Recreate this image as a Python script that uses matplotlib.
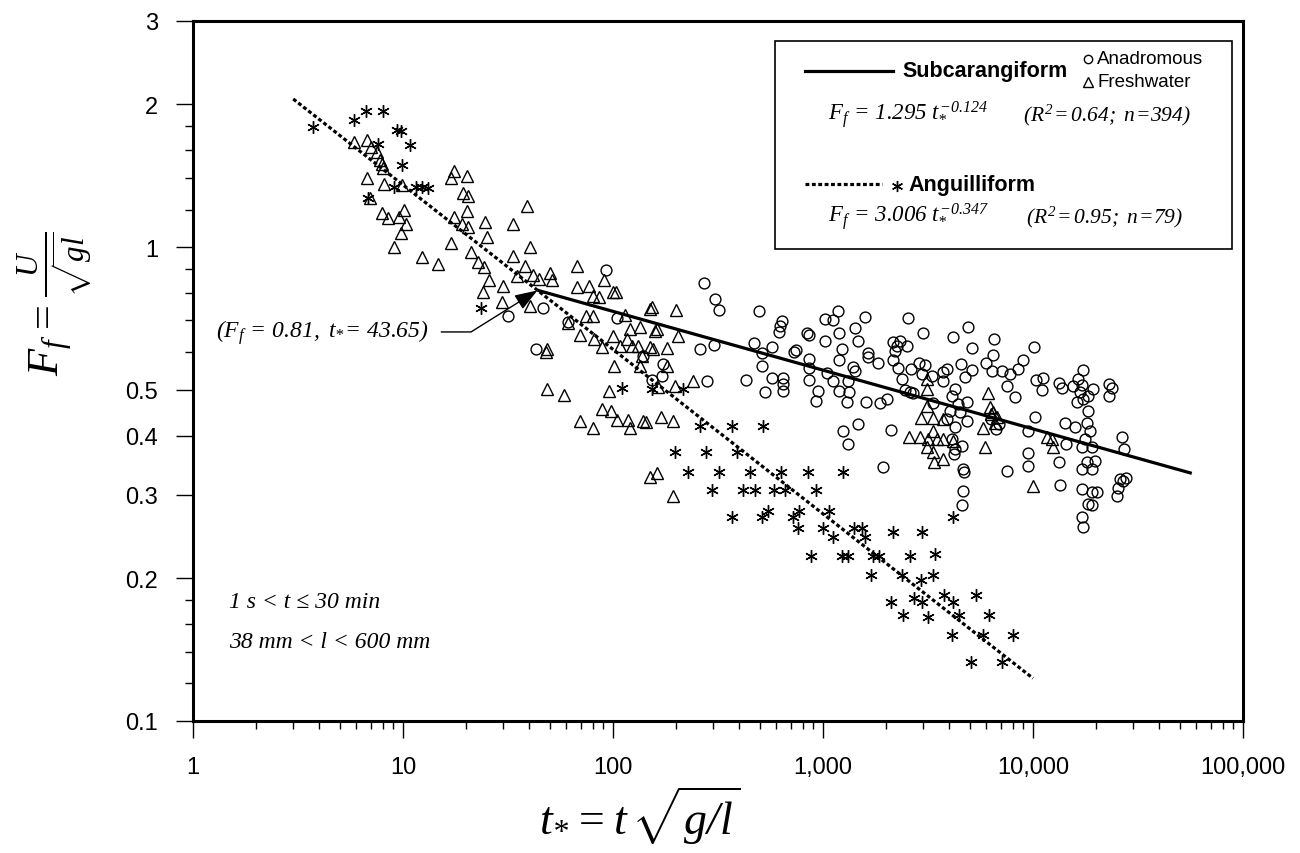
import numpy as np
import matplotlib.pyplot as plt
from matplotlib.patches import Rectangle
from matplotlib.ticker import FixedLocator, NullFormatter, LogLocator

plt.rcParams['font.family'] = ['Liberation Sans', 'DejaVu Sans']
plt.rcParams['mathtext.fontset'] = 'custom'
plt.rcParams['mathtext.rm'] = 'Liberation Serif:italic'
plt.rcParams['mathtext.it'] = 'Liberation Serif:italic'
plt.rcParams['mathtext.bf'] = 'Liberation Serif:bold'

# Anguilliform (asterisks)
angu_t = [3.73, 5.84, 6.67, 8.03, 9.37, 9.78, 10.8, 7.60, 9.9, 9.06, 11.5, 12.3, 13.1, 6.81,
          23.5, 110, 153, 215, 259, 197, 227,
          370, 518, 278, 390, 319, 449, 630, 848, 1250,
          296, 416, 475, 584, 661, 927,
          547, 768, 1070, 370, 512, 720,
          760, 1000, 1400, 1530, 1120, 1580, 2150, 2960,
          876, 1230, 1310, 1730, 1850, 2600, 3410,
          1690, 2380, 3340, 2930,
          3770, 5350, 2110, 2710, 2960, 4160,
          2400, 3160, 4440, 6170,
          4110, 5780, 8030,
          5070, 7120, 4160]
angu_f = [1.79, 1.85, 1.94, 1.94, 1.77, 1.76, 1.64, 1.65, 1.49, 1.34, 1.34, 1.34, 1.33, 1.27,
          0.744, 0.504, 0.502, 0.502, 0.419, 0.370, 0.335,
          0.419, 0.419, 0.370, 0.370, 0.335, 0.335, 0.335, 0.335, 0.335,
          0.307, 0.307, 0.307, 0.307, 0.307, 0.307,
          0.277, 0.277, 0.277, 0.270, 0.270, 0.270,
          0.255, 0.255, 0.255, 0.255, 0.245, 0.245, 0.250, 0.250,
          0.223, 0.223, 0.223, 0.223, 0.223, 0.223, 0.225,
          0.203, 0.203, 0.203, 0.198,
          0.184, 0.184, 0.178, 0.182, 0.178, 0.178,
          0.167, 0.166, 0.167, 0.167,
          0.152, 0.152, 0.152,
          0.133, 0.133, 0.270]

# Freshwater subcarangiform (triangles)
fresh_t = [5.84, 6.74, 7.05, 7.52, 7.77, 7.94, 8.03, 6.74, 8.12, 9.9, 6.96, 7.94, 8.48, 9.57,
           10.1, 10.3, 9.78, 9.06, 17.5, 16.9, 20.2, 19.3, 20.4, 20.2, 17.5, 19.1, 20.4, 24.6,
           25.1, 33.4, 39.0, 16.9, 40.3,
           12.3, 14.7, 21.1, 22.7, 24.3, 33.4, 38.1, 34.9, 41.6, 44.4, 50.1, 51.2, 25.7, 24.0,
           29.9, 29.6, 40.3, 67.4, 67.4, 77.0, 80.3, 86.0, 90.6, 100, 103, 74.4, 80.3, 61.0,
           69.6, 81.2, 100, 114, 121, 134, 150, 153, 162, 158, 200, 204, 181, 88.7, 108, 117,
           123, 131, 150, 155, 137, 101, 134, 181, 48.5, 48.0, 48.5, 58.4, 95.7, 164, 197, 240,
           88.7, 97.8, 69.6, 80.3, 104, 118, 121, 139, 144, 169, 193, 162, 150, 193,
           3110, 3110, 3110, 2930, 3340, 3730, 2570, 2900, 3160, 3340, 3490, 3730, 3110, 3340,
           3380, 3730, 4160, 5900, 6100, 6230, 5780, 6450, 6740, 6600, 6310, 10000, 11600,
           12300, 12500]
fresh_f = [1.67, 1.68, 1.63, 1.59, 1.53, 1.50, 1.47, 1.40, 1.36, 1.35, 1.27, 1.18, 1.15, 1.16,
           1.20, 1.12, 1.07, 1.00, 1.45, 1.40, 1.41, 1.30, 1.28, 1.19, 1.16, 1.12, 1.10, 1.13,
           1.05, 1.12, 1.22, 1.02, 1.00,
           0.953, 0.921, 0.976, 0.930, 0.907, 0.957, 0.912, 0.869, 0.873, 0.856, 0.881, 0.852,
           0.852, 0.804, 0.827, 0.766, 0.751, 0.912, 0.823, 0.827, 0.788, 0.785, 0.852, 0.804,
           0.804, 0.715, 0.715, 0.691, 0.652, 0.640, 0.649, 0.719, 0.671, 0.678, 0.740, 0.747,
           0.671, 0.665, 0.736, 0.649, 0.612, 0.615, 0.618, 0.640, 0.618, 0.618, 0.615, 0.609,
           0.589, 0.561, 0.561, 0.561, 0.609, 0.600, 0.502, 0.487, 0.496, 0.507, 0.509, 0.522,
           0.455, 0.451, 0.430, 0.415, 0.432, 0.432, 0.415, 0.430, 0.428, 0.438, 0.430, 0.333,
           0.327, 0.298,
           0.527, 0.502, 0.462, 0.436, 0.436, 0.434, 0.398, 0.398, 0.394, 0.409, 0.394, 0.394,
           0.379, 0.370, 0.352, 0.357, 0.389, 0.379, 0.492, 0.460, 0.415, 0.449, 0.438, 0.425,
           0.444, 0.313, 0.398, 0.394, 0.379]

# Anadromous subcarangiform (circles)
anad_t = [92.7, 46.4, 31.6, 61.0, 104, 43.0, 139, 173, 171, 153,
          271, 306, 319, 495, 259, 302, 280, 430, 469, 512, 512, 571, 571, 530, 638, 623, 617,
          645, 645, 645, 728, 745, 838, 860, 860, 860, 860, 947, 927, 1020, 1020, 1120, 1180,
          1190, 1230, 1190, 1040, 1120, 1190, 1330, 1310, 1300, 1420, 1470, 1580, 1640, 1640,
          1830, 1390, 1420, 1600, 1870, 2020, 1470, 1250, 1310, 2110, 1930, 2540, 2990, 2150,
          2330, 2250, 2510, 2200, 2150, 2270, 2380, 2460, 2600, 2680, 2620, 2870, 3060, 2960,
          3300, 3340, 3730, 3900, 3730, 4160, 4900, 5120, 4540, 5120, 4740, 4250, 4110, 4390,
          4850, 5960, 6380, 6520, 6450, 4040, 4490, 4850, 3900, 4250, 4110, 4590, 4250, 4200,
          4640, 4690, 4640, 4590, 6340, 6890, 6670,
          10100, 8960, 8480, 7770, 7520, 8200, 7130, 10300, 11200, 11000, 13300, 13800, 10200,
          9470, 9470, 9470, 7520, 14200, 14400, 15800, 13300, 13400, 15500, 17300, 16400,
          17100, 16700, 17300, 18300, 19300, 16200, 18300, 18100, 18700, 17700, 17100, 19100,
          18100, 19800, 17100, 19100, 17100, 19100, 20200, 18300, 19100, 17100, 17300, 23000,
          23800, 23000, 26500, 27100, 26000, 26800, 27700, 25400, 25100]
anad_f = [0.895, 0.744, 0.715, 0.695, 0.708, 0.609, 0.589, 0.566, 0.534, 0.524,
          0.839, 0.777, 0.736, 0.733, 0.609, 0.621, 0.522, 0.524, 0.627, 0.598, 0.561, 0.615,
          0.529, 0.494, 0.698, 0.681, 0.662, 0.529, 0.514, 0.496, 0.600, 0.606, 0.659, 0.652,
          0.580, 0.555, 0.524, 0.496, 0.473, 0.633, 0.705, 0.701, 0.733, 0.659, 0.609, 0.577,
          0.542, 0.522, 0.496, 0.494, 0.522, 0.471, 0.675, 0.633, 0.712, 0.598, 0.586, 0.569,
          0.558, 0.547, 0.471, 0.469, 0.478, 0.423, 0.409, 0.385, 0.411, 0.344, 0.708, 0.659,
          0.630, 0.633, 0.618, 0.618, 0.604, 0.577, 0.555, 0.527, 0.499, 0.494, 0.492, 0.553,
          0.569, 0.564, 0.540, 0.534, 0.469, 0.545, 0.553, 0.522, 0.646, 0.678, 0.612, 0.566,
          0.550, 0.532, 0.502, 0.485, 0.466, 0.471, 0.569, 0.547, 0.640, 0.592, 0.451, 0.449,
          0.430, 0.434, 0.417, 0.394, 0.381, 0.374, 0.365, 0.340, 0.335, 0.306, 0.286, 0.434,
          0.423, 0.413,
          0.615, 0.577, 0.553, 0.540, 0.509, 0.483, 0.547, 0.524, 0.529, 0.499, 0.517, 0.504,
          0.438, 0.409, 0.367, 0.345, 0.337, 0.425, 0.385, 0.417, 0.352, 0.315, 0.509, 0.550,
          0.527, 0.512, 0.494, 0.478, 0.485, 0.502, 0.471, 0.451, 0.425, 0.409, 0.394, 0.379,
          0.379, 0.352, 0.354, 0.340, 0.340, 0.309, 0.304, 0.304, 0.287, 0.286, 0.270, 0.257,
          0.514, 0.504, 0.485, 0.398, 0.374, 0.324, 0.321, 0.326, 0.310, 0.298]

# fitted power laws Ff = a * t^b and their plotted ranges
sub_a, sub_b, sub_range = 1.295, -0.124, [43.65, 57000]
ang_a, ang_b, ang_range = 3.006, -0.347, [3.0, 10000]

xticks = [1, 10, 100, 1000, 10000, 100000]
xticklabels = ['1', '10', '100', '1,000', '10,000', '100,000']
yticks = [0.1, 0.2, 0.3, 0.4, 0.5, 1, 2, 3]
yticklabels = ['0.1', '0.2', '0.3', '0.4', '0.5', '1', '2', '3']
yminor = [0.12, 0.14, 0.16, 0.18, 0.6, 0.7, 0.8, 0.9, 1.2, 1.4, 1.6, 1.8]

fig = plt.figure(figsize=(13, 8.54), dpi=100)
ax = fig.add_axes([0.1485, 0.1546, 0.8077, 0.8197])

mk = dict(linestyle='none', mfc='none', mec='black', color='black')
ax.plot(anad_t, anad_f, marker='o', ms=7.8, mew=1.0, **mk)
ax.plot(fresh_t, fresh_f, marker='^', ms=8.8, mew=1.0, **mk)
ax.plot(angu_t, angu_f, marker=(6, 2, 0), ms=9, mew=1.0, **mk)

ts = np.array(sub_range)
ax.plot(ts, sub_a * ts ** sub_b, color='black', lw=2.3, solid_capstyle='butt')
ta = np.array(ang_range)
ax.plot(ta, ang_a * ta ** ang_b, color='black', lw=2.3, linestyle=(0, (1.2, 0.8)))

ax.set_xscale('log')
ax.set_yscale('log')
ax.set_xlim(1, 100000)
ax.set_ylim(0.1, 3)
ax.xaxis.set_major_locator(FixedLocator(xticks))
ax.set_xticklabels(xticklabels)
ax.xaxis.set_minor_locator(LogLocator(base=10, subs=np.arange(2, 10)))
ax.xaxis.set_minor_formatter(NullFormatter())
ax.yaxis.set_major_locator(FixedLocator(yticks))
ax.set_yticklabels(yticklabels)
ax.yaxis.set_minor_locator(FixedLocator(yminor))
ax.yaxis.set_minor_formatter(NullFormatter())
ax.tick_params(which='major', direction='out', length=12, width=1.0, labelsize=17, pad=13)
ax.tick_params(which='minor', direction='out', length=6, width=1.0)
ax.tick_params(top=False, right=False)
for s in ax.spines.values():
    s.set_linewidth(2.2)

# axis titles
fig.text(0.492, 0.045, r'$t_{*} = t\,\sqrt{g/l}$', fontsize=33, ha='center', va='center')
fig.text(0.042, 0.645, r'$F_f = \frac{U}{\sqrt{gl}}$', fontsize=32, ha='center', va='center',
         rotation=90)

# arrow to intersection point
ax.annotate('', xy=(43.65, 0.81), xytext=(15.2, 0.662),
            arrowprops=dict(arrowstyle='-|>,head_length=0.7,head_width=0.25', color='black',
                            lw=1.0, mutation_scale=20, shrinkA=0, shrinkB=0,
                            connectionstyle='angle,angleA=0,angleB=32,rad=0'))
ax.text(0.022, 0.556, r'$(F_f\,=\,0.81,\ t_{*}\!=\,43.65)$', transform=ax.transAxes,
        fontsize=17, ha='left', va='center')

serif = ['Liberation Serif', 'DejaVu Serif']
ax.text(0.034, 0.171, '1 s < t \u2264 30 min', transform=ax.transAxes, fontsize=17,
        family=serif, style='italic', ha='left', va='center')
ax.text(0.034, 0.113, '38 mm < l < 600 mm', transform=ax.transAxes, fontsize=17,
        family=serif, style='italic', ha='left', va='center')

# legend box
ax.add_patch(Rectangle((0.554, 0.674), 0.4355, 0.297, transform=ax.transAxes,
                       fill=False, lw=1.2, edgecolor='black', zorder=5))
ax.plot([0.583, 0.667], [0.929, 0.929], transform=ax.transAxes, color='black', lw=2.3)
ax.text(0.676, 0.929, 'Subcarangiform', transform=ax.transAxes, fontsize=15.5,
        fontweight='bold', ha='left', va='center')
ax.plot([0.8524], [0.946], transform=ax.transAxes, marker='o', ms=6, mew=1.0, **mk)
ax.text(0.861, 0.946, 'Anadromous', transform=ax.transAxes, fontsize=13.5, ha='left',
        va='center')
ax.plot([0.8524], [0.913], transform=ax.transAxes, marker='^', ms=6.5, mew=1.0, **mk)
ax.text(0.861, 0.913, 'Freshwater', transform=ax.transAxes, fontsize=13.5, ha='left',
        va='center')
ax.text(0.605, 0.867, r'$F_f\,=\,1.295\ t_{*}^{-0.124}$', transform=ax.transAxes,
        fontsize=16.5, ha='left', va='center')
ax.text(0.79, 0.867, r'$(R^2\!=0.64;\ n\!=\!394)$', transform=ax.transAxes,
        fontsize=15.5, ha='left', va='center')

ax.plot([0.583, 0.656], [0.767, 0.767], transform=ax.transAxes, color='black', lw=2.3,
        linestyle=(0, (1.2, 0.8)))
ax.plot([0.670], [0.764], transform=ax.transAxes, marker=(6, 2, 0), ms=8, mew=1.0, **mk)
ax.text(0.681, 0.767, 'Anguilliform', transform=ax.transAxes, fontsize=15.5,
        fontweight='bold', ha='left', va='center')
ax.text(0.605, 0.721, r'$F_f\,=\,3.006\ t_{*}^{-0.347}$', transform=ax.transAxes,
        fontsize=16.5, ha='left', va='center')
ax.text(0.793, 0.721, r'$(R^2\!=0.95;\ n\!=\!79)$', transform=ax.transAxes,
        fontsize=15.5, ha='left', va='center')

fig.savefig('out.png', dpi=100)
